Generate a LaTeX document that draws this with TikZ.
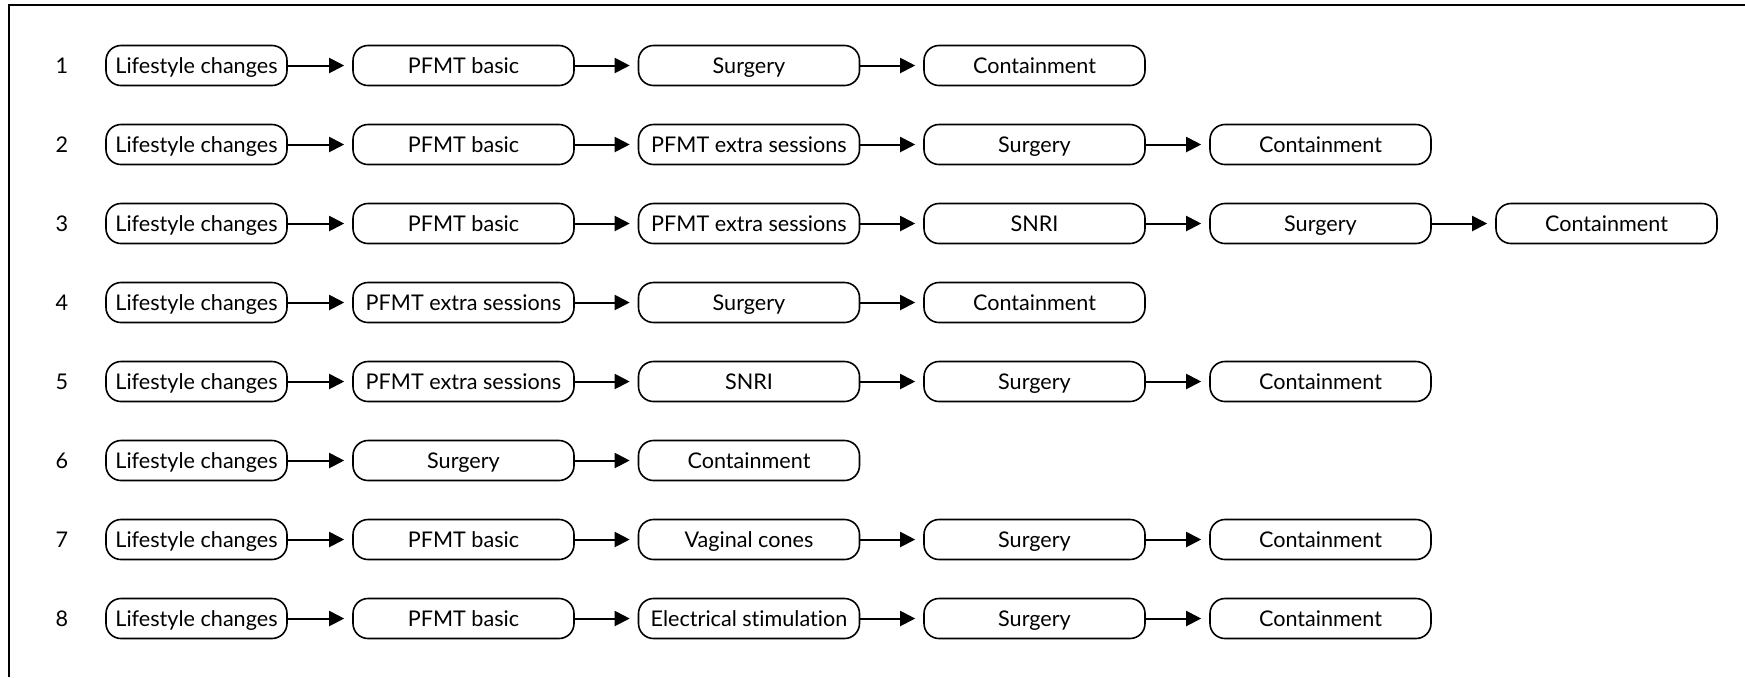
\documentclass[tikz,border=0pt]{standalone}
\usepackage{fontspec}
\setmainfont{Lato}[Ligatures=NoCommon]
\usetikzlibrary{arrows.meta}
\tikzset{
  stepbox/.style={draw, line width=0.8pt, rounded corners=7.5pt, minimum height=20pt, inner sep=0pt, text height=1.8ex, text depth=0.25ex, font=\fontsize{10.8}{13}\selectfont},
  numlbl/.style={inner sep=0pt, text height=1.8ex, text depth=0.25ex, font=\fontsize{10.8}{13}\selectfont},
  arr/.style={line width=1pt, -{Triangle[length=7.5pt,width=7.5pt]}, shorten >=4pt},
  frameline/.style={line width=1.1pt}
}
\begin{document}
\begin{tikzpicture}[x=0.5pt,y=-0.5pt]
\useasboundingbox (0,0) rectangle (1745,677);
\coordinate (fa) at (9,677);
\coordinate (fb) at (9,5);
\coordinate (fc) at (1745,5);
\draw[frameline] (fa) -- (fb) -- (fc);
\foreach \r/\items in {
  1/{Lifestyle changes,PFMT basic,Surgery,Containment},
  2/{Lifestyle changes,PFMT basic,PFMT extra sessions,Surgery,Containment},
  3/{Lifestyle changes,PFMT basic,PFMT extra sessions,SNRI,Surgery,Containment},
  4/{Lifestyle changes,PFMT extra sessions,Surgery,Containment},
  5/{Lifestyle changes,PFMT extra sessions,SNRI,Surgery,Containment},
  6/{Lifestyle changes,Surgery,Containment},
  7/{Lifestyle changes,PFMT basic,Vaginal cones,Surgery,Containment},
  8/{Lifestyle changes,PFMT basic,Electrical stimulation,Surgery,Containment}} {
  \pgfmathsetmacro\yy{65.5+79*(\r-1)}
  \node[numlbl] (n\r) at (62,\yy) {\r};
  \foreach \t [count=\c] in \items {
    \pgfmathsetmacro\w{\c==1 ? 90.5 : 110.5}
    \pgfmathsetmacro\xx{{196.5,463.5,749,1034.5,1320.5,1606.5}[\c-1]}
    \node[stepbox, minimum width=\w pt] (r\r-\c) at (\xx,\yy) {\t};
    \ifnum\c>1
      \pgfmathtruncatemacro\p{\c-1}
      \draw[arr] (r\r-\p) -- (r\r-\c);
    \fi
  }
}
\end{tikzpicture}
\end{document}
